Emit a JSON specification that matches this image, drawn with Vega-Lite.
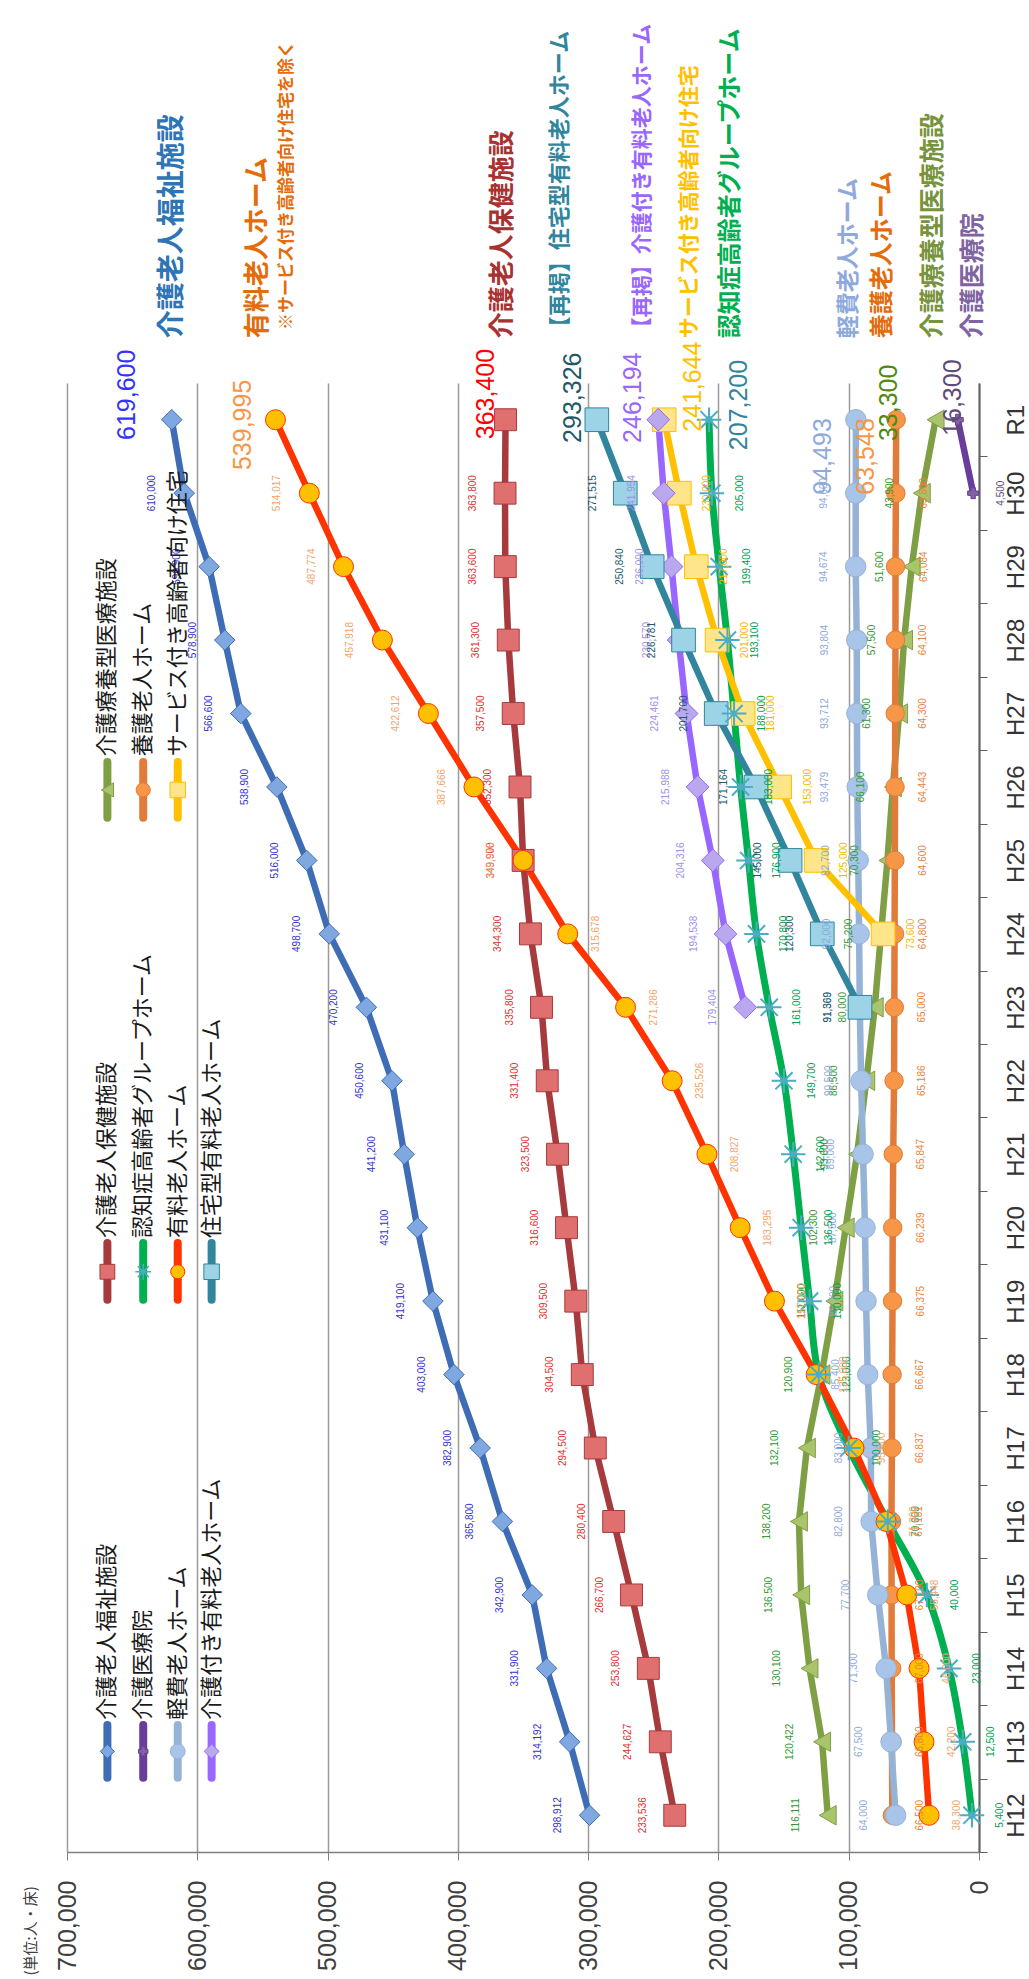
{
"$schema": "https://vega.github.io/schema/vega-lite/v6.json",
"width": 912, "height": 1469,
"autosize": {"type": "none"},
"padding": {"left": 67, "top": 383, "right": 50, "bottom": 127},
"background": "#ffffff",
"config": {"view": {"stroke": null}, "font": "Noto Sans CJK JP"},
"datasets": {
"series": [
{"s":"介護老人福祉施設","t":12,"v":298912},{"s":"介護老人福祉施設","t":13,"v":314192},{"s":"介護老人福祉施設","t":14,"v":331900},{"s":"介護老人福祉施設","t":15,"v":342900},{"s":"介護老人福祉施設","t":16,"v":365800},{"s":"介護老人福祉施設","t":17,"v":382900},{"s":"介護老人福祉施設","t":18,"v":403000},{"s":"介護老人福祉施設","t":19,"v":419100},{"s":"介護老人福祉施設","t":20,"v":431100},{"s":"介護老人福祉施設","t":21,"v":441200},{"s":"介護老人福祉施設","t":22,"v":450600},{"s":"介護老人福祉施設","t":23,"v":470200},{"s":"介護老人福祉施設","t":24,"v":498700},{"s":"介護老人福祉施設","t":25,"v":516000},{"s":"介護老人福祉施設","t":26,"v":538900},{"s":"介護老人福祉施設","t":27,"v":566600},{"s":"介護老人福祉施設","t":28,"v":578900},{"s":"介護老人福祉施設","t":29,"v":590900},{"s":"介護老人福祉施設","t":30,"v":610000},{"s":"介護老人福祉施設","t":31,"v":619600},
{"s":"介護老人保健施設","t":12,"v":233536},{"s":"介護老人保健施設","t":13,"v":244627},{"s":"介護老人保健施設","t":14,"v":253800},{"s":"介護老人保健施設","t":15,"v":266700},{"s":"介護老人保健施設","t":16,"v":280400},{"s":"介護老人保健施設","t":17,"v":294500},{"s":"介護老人保健施設","t":18,"v":304500},{"s":"介護老人保健施設","t":19,"v":309500},{"s":"介護老人保健施設","t":20,"v":316600},{"s":"介護老人保健施設","t":21,"v":323500},{"s":"介護老人保健施設","t":22,"v":331400},{"s":"介護老人保健施設","t":23,"v":335800},{"s":"介護老人保健施設","t":24,"v":344300},{"s":"介護老人保健施設","t":25,"v":349900},{"s":"介護老人保健施設","t":26,"v":352300},{"s":"介護老人保健施設","t":27,"v":357500},{"s":"介護老人保健施設","t":28,"v":361300},{"s":"介護老人保健施設","t":29,"v":363600},{"s":"介護老人保健施設","t":30,"v":363800},{"s":"介護老人保健施設","t":31,"v":363400},
{"s":"介護療養型医療施設","t":12,"v":116111},{"s":"介護療養型医療施設","t":13,"v":120422},{"s":"介護療養型医療施設","t":14,"v":130100},{"s":"介護療養型医療施設","t":15,"v":136500},{"s":"介護療養型医療施設","t":16,"v":138200},{"s":"介護療養型医療施設","t":17,"v":132100},{"s":"介護療養型医療施設","t":18,"v":120900},{"s":"介護療養型医療施設","t":19,"v":111000},{"s":"介護療養型医療施設","t":20,"v":102300},{"s":"介護療養型医療施設","t":21,"v":93600},{"s":"介護療養型医療施設","t":22,"v":86500},{"s":"介護療養型医療施設","t":23,"v":80000},{"s":"介護療養型医療施設","t":24,"v":75200},{"s":"介護療養型医療施設","t":25,"v":70300},{"s":"介護療養型医療施設","t":26,"v":66100},{"s":"介護療養型医療施設","t":27,"v":61300},{"s":"介護療養型医療施設","t":28,"v":57500},{"s":"介護療養型医療施設","t":29,"v":51600},{"s":"介護療養型医療施設","t":30,"v":43900},{"s":"介護療養型医療施設","t":31,"v":33300},
{"s":"介護医療院","t":30,"v":4500},{"s":"介護医療院","t":31,"v":16300},
{"s":"認知症高齢者グループホーム","t":12,"v":5400},{"s":"認知症高齢者グループホーム","t":13,"v":12500},{"s":"認知症高齢者グループホーム","t":14,"v":23000},{"s":"認知症高齢者グループホーム","t":15,"v":40000},{"s":"認知症高齢者グループホーム","t":16,"v":70000},{"s":"認知症高齢者グループホーム","t":17,"v":100000},{"s":"認知症高齢者グループホーム","t":18,"v":123000},{"s":"認知症高齢者グループホーム","t":19,"v":130000},{"s":"認知症高齢者グループホーム","t":20,"v":136500},{"s":"認知症高齢者グループホーム","t":21,"v":142600},{"s":"認知症高齢者グループホーム","t":22,"v":149700},{"s":"認知症高齢者グループホーム","t":23,"v":161000},{"s":"認知症高齢者グループホーム","t":24,"v":170800},{"s":"認知症高齢者グループホーム","t":25,"v":176900},{"s":"認知症高齢者グループホーム","t":26,"v":183000},{"s":"認知症高齢者グループホーム","t":27,"v":188000},{"s":"認知症高齢者グループホーム","t":28,"v":193100},{"s":"認知症高齢者グループホーム","t":29,"v":199400},{"s":"認知症高齢者グループホーム","t":30,"v":205000},{"s":"認知症高齢者グループホーム","t":31,"v":207200},
{"s":"養護老人ホーム","t":12,"v":66500},{"s":"養護老人ホーム","t":13,"v":66800},{"s":"養護老人ホーム","t":14,"v":67000},{"s":"養護老人ホーム","t":15,"v":67100},{"s":"養護老人ホーム","t":16,"v":67181},{"s":"養護老人ホーム","t":17,"v":66837},{"s":"養護老人ホーム","t":18,"v":66667},{"s":"養護老人ホーム","t":19,"v":66375},{"s":"養護老人ホーム","t":20,"v":66239},{"s":"養護老人ホーム","t":21,"v":65847},{"s":"養護老人ホーム","t":22,"v":65186},{"s":"養護老人ホーム","t":23,"v":65000},{"s":"養護老人ホーム","t":24,"v":64800},{"s":"養護老人ホーム","t":25,"v":64600},{"s":"養護老人ホーム","t":26,"v":64443},{"s":"養護老人ホーム","t":27,"v":64300},{"s":"養護老人ホーム","t":28,"v":64100},{"s":"養護老人ホーム","t":29,"v":64084},{"s":"養護老人ホーム","t":30,"v":63800},{"s":"養護老人ホーム","t":31,"v":63548},
{"s":"軽費老人ホーム","t":12,"v":64000},{"s":"軽費老人ホーム","t":13,"v":67500},{"s":"軽費老人ホーム","t":14,"v":71300},{"s":"軽費老人ホーム","t":15,"v":77700},{"s":"軽費老人ホーム","t":16,"v":82800},{"s":"軽費老人ホーム","t":17,"v":83000},{"s":"軽費老人ホーム","t":18,"v":85400},{"s":"軽費老人ホーム","t":19,"v":86700},{"s":"軽費老人ホーム","t":20,"v":87500},{"s":"軽費老人ホーム","t":21,"v":89000},{"s":"軽費老人ホーム","t":22,"v":90500},{"s":"軽費老人ホーム","t":23,"v":91500},{"s":"軽費老人ホーム","t":24,"v":92000},{"s":"軽費老人ホーム","t":25,"v":92700},{"s":"軽費老人ホーム","t":26,"v":93479},{"s":"軽費老人ホーム","t":27,"v":93712},{"s":"軽費老人ホーム","t":28,"v":93804},{"s":"軽費老人ホーム","t":29,"v":94674},{"s":"軽費老人ホーム","t":30,"v":94600},{"s":"軽費老人ホーム","t":31,"v":94493},
{"s":"有料老人ホーム","t":12,"v":38300},{"s":"有料老人ホーム","t":13,"v":42200},{"s":"有料老人ホーム","t":14,"v":46000},{"s":"有料老人ホーム","t":15,"v":55448},{"s":"有料老人ホーム","t":16,"v":71300},{"s":"有料老人ホーム","t":17,"v":95900},{"s":"有料老人ホーム","t":18,"v":125000},{"s":"有料老人ホーム","t":19,"v":157000},{"s":"有料老人ホーム","t":20,"v":183295},{"s":"有料老人ホーム","t":21,"v":208827},{"s":"有料老人ホーム","t":22,"v":235526},{"s":"有料老人ホーム","t":23,"v":271286},{"s":"有料老人ホーム","t":24,"v":315678},{"s":"有料老人ホーム","t":25,"v":349975},{"s":"有料老人ホーム","t":26,"v":387666},{"s":"有料老人ホーム","t":27,"v":422612},{"s":"有料老人ホーム","t":28,"v":457918},{"s":"有料老人ホーム","t":29,"v":487774},{"s":"有料老人ホーム","t":30,"v":514017},{"s":"有料老人ホーム","t":31,"v":539995},
{"s":"サービス付き高齢者向け住宅","t":24,"v":73600},{"s":"サービス付き高齢者向け住宅","t":25,"v":125000},{"s":"サービス付き高齢者向け住宅","t":26,"v":153000},{"s":"サービス付き高齢者向け住宅","t":27,"v":181000},{"s":"サービス付き高齢者向け住宅","t":28,"v":201000},{"s":"サービス付き高齢者向け住宅","t":29,"v":217000},{"s":"サービス付き高齢者向け住宅","t":30,"v":230000},{"s":"サービス付き高齢者向け住宅","t":31,"v":241644},
{"s":"介護付き有料老人ホーム","t":23,"v":179404},{"s":"介護付き有料老人ホーム","t":24,"v":194538},{"s":"介護付き有料老人ホーム","t":25,"v":204316},{"s":"介護付き有料老人ホーム","t":26,"v":215988},{"s":"介護付き有料老人ホーム","t":27,"v":224461},{"s":"介護付き有料老人ホーム","t":28,"v":230570},{"s":"介護付き有料老人ホーム","t":29,"v":236000},{"s":"介護付き有料老人ホーム","t":30,"v":241954},{"s":"介護付き有料老人ホーム","t":31,"v":246194},
{"s":"住宅型有料老人ホーム","t":23,"v":91369},{"s":"住宅型有料老人ホーム","t":24,"v":120300},{"s":"住宅型有料老人ホーム","t":25,"v":145000},{"s":"住宅型有料老人ホーム","t":26,"v":171164},{"s":"住宅型有料老人ホーム","t":27,"v":201700},{"s":"住宅型有料老人ホーム","t":28,"v":226781},{"s":"住宅型有料老人ホーム","t":29,"v":250840},{"s":"住宅型有料老人ホーム","t":30,"v":271515},{"s":"住宅型有料老人ホーム","t":31,"v":293326}
],
"legendLine": [
{"s":"介護老人福祉施設","v":669000,"t":12.51,"t2":13.23},{"s":"介護医療院","v":641500,"t":12.51,"t2":13.23},{"s":"軽費老人ホーム","v":615000,"t":12.51,"t2":13.23},{"s":"介護付き有料老人ホーム","v":589000,"t":12.51,"t2":13.23},
{"s":"介護老人保健施設","v":669000,"t":19.02,"t2":19.79},{"s":"認知症高齢者グループホーム","v":641500,"t":19.02,"t2":19.79},{"s":"有料老人ホーム","v":615000,"t":19.02,"t2":19.79},{"s":"住宅型有料老人ホーム","v":589000,"t":19.02,"t2":19.79},
{"s":"介護療養型医療施設","v":669000,"t":25.58,"t2":26.34},{"s":"養護老人ホーム","v":641500,"t":25.58,"t2":26.34},{"s":"サービス付き高齢者向け住宅","v":615000,"t":25.58,"t2":26.34}
],
"legendMark": [
{"s":"介護老人福祉施設","v":669000,"t":12.87},{"s":"介護医療院","v":641500,"t":12.87},{"s":"軽費老人ホーム","v":615000,"t":12.87},{"s":"介護付き有料老人ホーム","v":589000,"t":12.87},
{"s":"介護老人保健施設","v":669000,"t":19.4},{"s":"認知症高齢者グループホーム","v":641500,"t":19.4},{"s":"有料老人ホーム","v":615000,"t":19.4},{"s":"住宅型有料老人ホーム","v":589000,"t":19.4},
{"s":"介護療養型医療施設","v":669000,"t":25.96},{"s":"養護老人ホーム","v":641500,"t":25.96},{"s":"サービス付き高齢者向け住宅","v":615000,"t":25.96}
],
"legendText": [
{"s":"介護老人福祉施設","v":669000,"t":13.3},{"s":"介護医療院","v":641500,"t":13.3},{"s":"軽費老人ホーム","v":615000,"t":13.3},{"s":"介護付き有料老人ホーム","v":589000,"t":13.3},
{"s":"介護老人保健施設","v":669000,"t":19.86},{"s":"認知症高齢者グループホーム","v":641500,"t":19.86},{"s":"有料老人ホーム","v":615000,"t":19.86},{"s":"住宅型有料老人ホーム","v":589000,"t":19.86},
{"s":"介護療養型医療施設","v":669000,"t":26.42},{"s":"養護老人ホーム","v":641500,"t":26.42},{"s":"サービス付き高齢者向け住宅","v":615000,"t":26.42}
],
"annot": [
{"kind":"name","s":"介護老人福祉施設","label":"介護老人福祉施設","v":618600,"t":32.11},
{"kind":"name","s":"有料老人ホーム","label":"有料老人ホーム","v":553400,"t":32.11},
{"kind":"note","s":"有料老人ホーム","label":"※サービス付き高齢者向け住宅を除く","v":531100,"t":32.22},
{"kind":"name","s":"介護老人保健施設","label":"介護老人保健施設","v":365400,"t":32.11},
{"kind":"name","s":"住宅型有料老人ホーム","label":"【再掲】住宅型有料老人ホーム","v":321600,"t":32.11},
{"kind":"name","s":"介護付き有料老人ホーム","label":"【再掲】介護付き有料老人ホーム","v":257900,"t":32.11},
{"kind":"name","s":"サービス付き高齢者向け住宅","label":"サービス付き高齢者向け住宅","v":221800,"t":32.11},
{"kind":"name","s":"認知症高齢者グループホーム","label":"認知症高齢者グループホーム","v":190400,"t":32.11},
{"kind":"name","s":"軽費老人ホーム","label":"軽費老人ホーム","v":99800,"t":32.11},
{"kind":"name","s":"養護老人ホーム","label":"養護老人ホーム","v":73700,"t":32.11},
{"kind":"name","s":"介護療養型医療施設","label":"介護療養型医療施設","v":35300,"t":32.11},
{"kind":"name","s":"介護医療院","label":"介護医療院","v":4600,"t":32.11},
{"kind":"value","s":"介護老人福祉施設","label":"619,600","v":653900,"t":31.34},
{"kind":"value","s":"有料老人ホーム","label":"539,995","v":564900,"t":30.93},
{"kind":"value","s":"介護老人保健施設","label":"363,400","v":378400,"t":31.35},
{"kind":"value","s":"住宅型有料老人ホーム","label":"293,326","v":311600,"t":31.3},
{"kind":"value","s":"介護付き有料老人ホーム","label":"246,194","v":265600,"t":31.3},
{"kind":"value","s":"サービス付き高齢者向け住宅","label":"241,644","v":219500,"t":31.45},
{"kind":"value","s":"認知症高齢者グループホーム","label":"207,200","v":184200,"t":31.2},
{"kind":"value","s":"軽費老人ホーム","label":"94,493","v":119700,"t":30.5},
{"kind":"value","s":"養護老人ホーム","label":"63,548","v":86700,"t":30.5},
{"kind":"value","s":"介護療養型医療施設","label":"33,300","v":69100,"t":31.23},
{"kind":"value","s":"介護医療院","label":"16,300","v":20000,"t":31.3}
]
},
"encoding": {
"x": {"field": "v", "type": "quantitative",
 "scale": {"domain": [0, 700000], "reverse": true, "nice": false, "zero": true},
 "axis": {"values": [0,100000,200000,300000,400000,500000,600000,700000], "format": ",d",
  "labelAngle": 270, "labelAlign": "right", "labelBaseline": "middle", "labelFont": "Liberation Sans", "labelFontSize": 25, "labelColor": "#404040", "labelPadding": 20, "labelOverlap": false, "labelFlush": false,
  "tickSize": 8, "tickColor": "#808080", "domainColor": "#808080", "domainWidth": 1.5,
  "grid": true, "gridColor": "#9a9a9a", "gridWidth": 1.5,
  "title": "(単位:人・床)", "titleFont": "Noto Sans CJK JP", "titleFontSize": 15, "titleFontWeight": "normal", "titleColor": "#404040", "titleAngle": 270, "titleAlign": "left", "titleBaseline": "middle", "titleX": -37, "titleY": 123}},
"y": {"field": "t", "type": "quantitative",
 "scale": {"domain": [11.5, 31.5], "nice": false, "zero": false},
 "axis": {"orient": "right", "values": [12,13,14,15,16,17,18,19,20,21,22,23,24,25,26,27,28,29,30,31],
  "labelExpr": "datum.value == 31 ? 'R1' : 'H' + datum.value",
  "labelAngle": 270, "labelAlign": "center", "labelBaseline": "top", "labelFont": "Liberation Sans", "labelFontSize": 24, "labelColor": "#333333", "labelPadding": 17, "labelOverlap": false, "labelFlush": false,
  "tickSize": 8, "tickOffset": 36.7, "labelOffset": -36.7, "tickColor": "#606060", "domainColor": "#606060", "domainWidth": 2, "grid": false, "title": null}}
},
"resolve": {"scale": {"color": "independent", "size": "independent"}},
"layer": [
{"data": {"name": "legendLine"},
 "mark": {"type": "rule", "strokeWidth": 8, "strokeCap": "round"},
 "encoding": {"y2": {"field": "t2"},
  "stroke": {"field": "s", "type": "nominal", "legend": null, "scale": {"domain": ["介護老人福祉施設","介護老人保健施設","介護療養型医療施設","介護医療院","認知症高齢者グループホーム","養護老人ホーム","軽費老人ホーム","有料老人ホーム","サービス付き高齢者向け住宅","介護付き有料老人ホーム","住宅型有料老人ホーム"], "range": ["#3F6DB5","#A63A3C","#7F9F45","#6A3D9A","#00B050","#E07B39","#95B3D7","#FF3300","#FFC000","#9966FF","#31859C"]}}}},
{"data": {"name": "series"},
 "transform": [{"filter": "datum.s == '認知症高齢者グループホーム'"}],
 "mark": {"type": "line", "strokeWidth": 7, "interpolate": "catmull-rom", "strokeCap": "round"},
 "encoding": {"stroke": {"field": "s", "type": "nominal", "legend": null}, "order": {"field": "t", "type": "quantitative"}}},
{"data": {"name": "series"},
 "transform": [{"filter": "datum.s != '認知症高齢者グループホーム'"}],
 "mark": {"type": "line", "strokeWidth": 6.5, "strokeCap": "round", "strokeJoin": "round"},
 "encoding": {"stroke": {"field": "s", "type": "nominal", "legend": null}, "order": {"field": "t", "type": "quantitative"}}},
{"data": {"name": "series"},
 "transform": [{"filter": "datum.s != '認知症高齢者グループホーム'"}],
 "mark": {"type": "point", "filled": true, "strokeWidth": 1, "opacity": 1},
 "encoding": {
  "stroke": {"field": "s", "type": "nominal", "legend": null},
  "fill": {"field": "s", "type": "nominal", "legend": null, "scale": {"domain": ["介護老人福祉施設","介護老人保健施設","介護療養型医療施設","介護医療院","認知症高齢者グループホーム","養護老人ホーム","軽費老人ホーム","有料老人ホーム","サービス付き高齢者向け住宅","介護付き有料老人ホーム","住宅型有料老人ホーム"], "range": ["#7FA7E0","#E07070","#A9C46A","#8064A2","#4BACC6","#F79646","#A8C4E8","#FFC000","#FFE58A","#B9A8EE","#9DD3E6"]}},
  "shape": {"field": "s", "type": "nominal", "legend": null, "scale": {"domain": ["介護老人福祉施設","介護老人保健施設","介護療養型医療施設","介護医療院","認知症高齢者グループホーム","養護老人ホーム","軽費老人ホーム","有料老人ホーム","サービス付き高齢者向け住宅","介護付き有料老人ホーム","住宅型有料老人ホーム"], "range": ["diamond","square","triangle-left","cross","cross","circle","circle","circle","square","diamond","square"]}},
  "size": {"field": "s", "type": "nominal", "legend": null, "scale": {"type": "ordinal", "domain": ["介護老人福祉施設","介護老人保健施設","介護療養型医療施設","介護医療院","認知症高齢者グループホーム","養護老人ホーム","軽費老人ホーム","有料老人ホーム","サービス付き高齢者向け住宅","介護付き有料老人ホーム","住宅型有料老人ホーム"], "range": [420,480,380,120,400,340,420,400,560,520,560]}}}},
{"data": {"name": "series"},
 "transform": [{"filter": "datum.s == '認知症高齢者グループホーム'"}],
 "mark": {"type": "point", "shape": "M-1,0L1,0M0,-1L0,1M-0.7,-0.7L0.7,0.7M-0.7,0.7L0.7,-0.7", "filled": false, "stroke": "#4BACC6", "strokeWidth": 2, "size": 600, "opacity": 1}},
{"data": {"name": "series"},
 "transform": [{"filter": "datum.t < 31 && (datum.s == '有料老人ホーム' ? datum.t >= 25 : indexof(['介護老人福祉施設','介護老人保健施設','介護療養型医療施設','軽費老人ホーム','介護付き有料老人ホーム','住宅型有料老人ホーム'], datum.s) >= 0)"}],
 "mark": {"type": "text", "angle": 270, "align": "center", "baseline": "middle", "dy": -32, "font": "Liberation Sans", "fontSize": 10},
 "encoding": {"text": {"field": "v", "type": "quantitative", "format": ",d"},
  "color": {"field": "s", "type": "nominal", "legend": null, "scale": {"domain": ["介護老人福祉施設","介護老人保健施設","介護療養型医療施設","介護医療院","認知症高齢者グループホーム","養護老人ホーム","軽費老人ホーム","有料老人ホーム","サービス付き高齢者向け住宅","介護付き有料老人ホーム","住宅型有料老人ホーム"], "range": ["#3333CC","#E02F2F","#339933","#604A7B","#00A050","#E8833A","#8EA9DB","#F2A46A","#F5B800","#9F8FE8","#215968"]}}}},
{"data": {"name": "series"},
 "transform": [{"filter": "datum.t < 31 && (datum.s == '有料老人ホーム' ? datum.t < 25 : indexof(['認知症高齢者グループホーム','養護老人ホーム','サービス付き高齢者向け住宅','介護医療院'], datum.s) >= 0)"}],
 "mark": {"type": "text", "angle": 270, "align": "center", "baseline": "middle", "dy": 28, "font": "Liberation Sans", "fontSize": 10},
 "encoding": {"text": {"field": "v", "type": "quantitative", "format": ",d"},
  "color": {"field": "s", "type": "nominal", "legend": null, "scale": {"domain": ["介護老人福祉施設","介護老人保健施設","介護療養型医療施設","介護医療院","認知症高齢者グループホーム","養護老人ホーム","軽費老人ホーム","有料老人ホーム","サービス付き高齢者向け住宅","介護付き有料老人ホーム","住宅型有料老人ホーム"], "range": ["#3333CC","#E02F2F","#339933","#604A7B","#00A050","#E8833A","#8EA9DB","#F2A46A","#F5B800","#9F8FE8","#215968"]}}}},
{"data": {"name": "legendMark"},
 "transform": [{"filter": "datum.s != '認知症高齢者グループホーム'"}],
 "mark": {"type": "point", "filled": true, "strokeWidth": 1, "opacity": 1},
 "encoding": {
  "stroke": {"field": "s", "type": "nominal", "legend": null},
  "fill": {"field": "s", "type": "nominal", "legend": null},
  "shape": {"field": "s", "type": "nominal", "legend": null},
  "size": {"field": "s", "type": "nominal", "legend": null, "scale": {"type": "ordinal", "domain": ["介護老人福祉施設","介護老人保健施設","介護療養型医療施設","介護医療院","認知症高齢者グループホーム","養護老人ホーム","軽費老人ホーム","有料老人ホーム","サービス付き高齢者向け住宅","介護付き有料老人ホーム","住宅型有料老人ホーム"], "range": [200,220,200,90,200,200,220,200,240,220,240]}}}},
{"data": {"name": "legendMark"},
 "transform": [{"filter": "datum.s == '認知症高齢者グループホーム'"}],
 "mark": {"type": "point", "shape": "M-1,0L1,0M0,-1L0,1M-0.7,-0.7L0.7,0.7M-0.7,0.7L0.7,-0.7", "filled": false, "stroke": "#4BACC6", "strokeWidth": 1.5, "size": 250, "opacity": 1}},
{"data": {"name": "legendText"},
 "mark": {"type": "text", "angle": 270, "align": "left", "baseline": "middle", "fontSize": 22, "color": "#1a1a1a"},
 "encoding": {"text": {"field": "s", "type": "nominal"}}},
{"data": {"name": "annot"},
 "transform": [{"filter": "datum.kind == 'name'"}],
 "mark": {"type": "text", "angle": 270, "align": "left", "baseline": "middle", "fontWeight": "bold"},
 "encoding": {"text": {"field": "label", "type": "nominal"},
  "size": {"field": "s", "type": "nominal", "legend": null, "scale": {"type": "ordinal", "domain": ["介護老人福祉施設","介護老人保健施設","介護療養型医療施設","介護医療院","認知症高齢者グループホーム","養護老人ホーム","軽費老人ホーム","有料老人ホーム","サービス付き高齢者向け住宅","介護付き有料老人ホーム","住宅型有料老人ホーム"], "range": [28,26,25,25,24,24,23,26,21,21,22]}},
  "color": {"field": "s", "type": "nominal", "legend": null, "scale": {"domain": ["介護老人福祉施設","介護老人保健施設","介護療養型医療施設","介護医療院","認知症高齢者グループホーム","養護老人ホーム","軽費老人ホーム","有料老人ホーム","サービス付き高齢者向け住宅","介護付き有料老人ホーム","住宅型有料老人ホーム"], "range": ["#2E75B6","#A83232","#77933C","#8064A2","#00B050","#E46C0A","#8EA9DB","#E46C0A","#FFC000","#9966FF","#31859C"]}}}},
{"data": {"name": "annot"},
 "transform": [{"filter": "datum.kind == 'note'"}],
 "mark": {"type": "text", "angle": 270, "align": "left", "baseline": "middle", "fontSize": 17, "fontWeight": "bold", "color": "#E46C0A"},
 "encoding": {"text": {"field": "label", "type": "nominal"}}},
{"data": {"name": "annot"},
 "transform": [{"filter": "datum.kind == 'value'"}],
 "mark": {"type": "text", "angle": 270, "align": "center", "baseline": "middle", "fontSize": 25, "font": "Liberation Sans"},
 "encoding": {"text": {"field": "label", "type": "nominal"},
  "color": {"field": "s", "type": "nominal", "legend": null, "scale": {"domain": ["介護老人福祉施設","介護老人保健施設","介護療養型医療施設","介護医療院","認知症高齢者グループホーム","養護老人ホーム","軽費老人ホーム","有料老人ホーム","サービス付き高齢者向け住宅","介護付き有料老人ホーム","住宅型有料老人ホーム"], "range": ["#3333FF","#FF0000","#4F8A10","#604A7B","#31859C","#F79646","#8EA9DB","#F79646","#FFC000","#9966FF","#215968"]}}}}
]
}
